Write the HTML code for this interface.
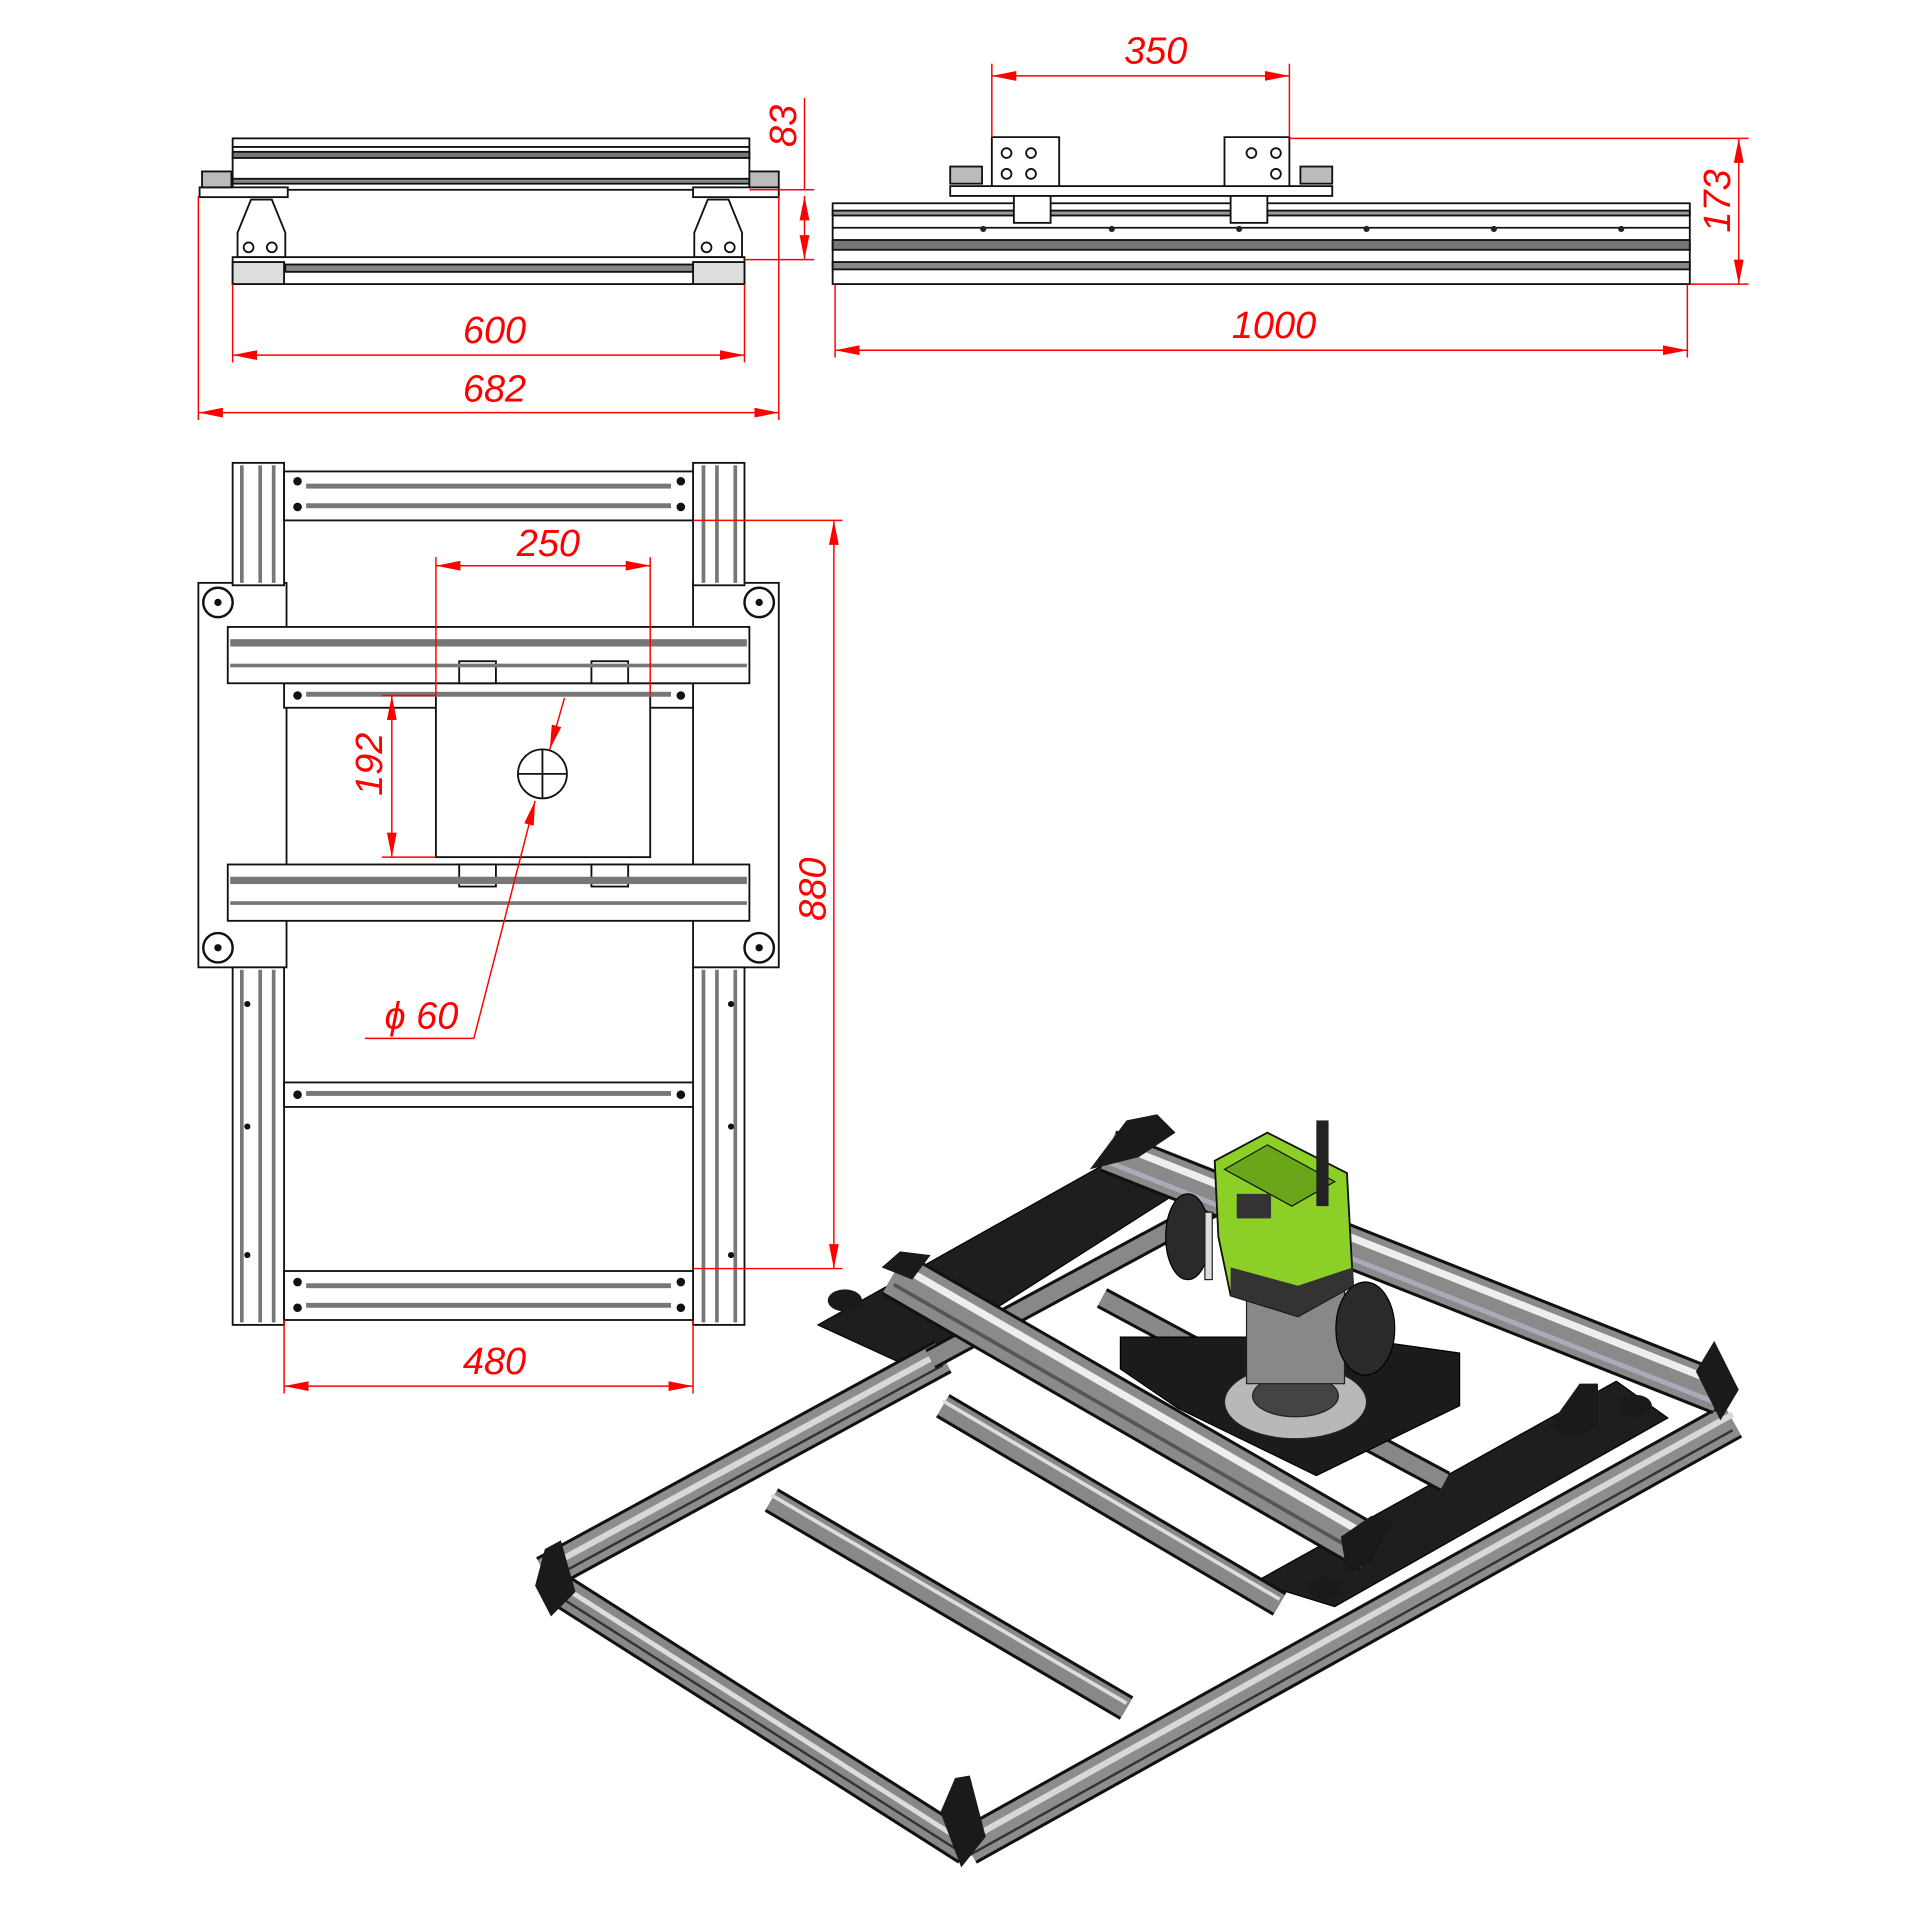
<!DOCTYPE html>
<html><head><meta charset="utf-8"><style>
html,body{margin:0;padding:0;background:#fff;}
svg{display:block;}
text{font-family:"Liberation Sans",sans-serif;font-style:italic;fill:#f00;font-size:31px;}
</style></head><body>
<svg width="1920" height="1920" viewBox="0 0 1568 1568" xmlns="http://www.w3.org/2000/svg">
<defs>
<marker id="a" viewBox="0 0 20 8" refX="20" refY="4" markerWidth="20" markerHeight="8" markerUnits="userSpaceOnUse" orient="auto-start-reverse"><path d="M0,0 L20,4 L0,8 z" fill="#f00"/></marker>
</defs>

<!-- ========== TOP LEFT VIEW ========== -->
<g stroke="#111" stroke-width="1.5" fill="#fff">
<rect x="190" y="113" width="422" height="42"/>
<line x1="190" y1="120" x2="612" y2="120"/>
<rect x="190" y="124" width="422" height="5" fill="#777"/>
<rect x="190" y="146" width="422" height="4" fill="#888"/>
<rect x="163" y="153" width="72" height="8"/>
<rect x="566" y="153" width="70" height="8"/>
<rect x="165" y="140" width="24" height="13" fill="#bbb"/>
<rect x="612" y="140" width="24" height="13" fill="#bbb"/>
<path d="M194,210 L194,190 L205,163 L222,163 L233,190 L233,210 z"/>
<path d="M567,210 L567,190 L578,163 L595,163 L606,190 L606,210 z"/>
<circle cx="203" cy="202" r="4"/><circle cx="222" cy="202" r="4"/>
<circle cx="577" cy="202" r="4"/><circle cx="596" cy="202" r="4"/>
<rect x="190" y="210" width="418" height="22"/>
<rect x="233" y="216" width="333" height="6" fill="#888"/>
<rect x="190" y="214" width="42" height="18" fill="#ddd"/>
<rect x="566" y="214" width="42" height="18" fill="#ddd"/>
</g>
<g stroke="#f00" stroke-width="1.2" fill="none">
<line x1="162" y1="160" x2="162" y2="343"/>
<line x1="636" y1="160" x2="636" y2="343"/>
<line x1="190" y1="232" x2="190" y2="296"/>
<line x1="608" y1="232" x2="608" y2="296"/>
<line x1="190" y1="290" x2="608" y2="290" marker-start="url(#a)" marker-end="url(#a)"/>
<line x1="162" y1="337" x2="636" y2="337" marker-start="url(#a)" marker-end="url(#a)"/>
<line x1="612" y1="155" x2="665" y2="155"/>
<line x1="608" y1="212" x2="665" y2="212"/>
<line x1="657" y1="80" x2="657" y2="155"/>
<line x1="657" y1="160" x2="657" y2="212" marker-start="url(#a)" marker-end="url(#a)"/>
</g>
<text x="378" y="280">600</text>
<text x="378" y="328">682</text>
<text transform="translate(650,120) rotate(-90)">83</text>

<!-- ========== TOP RIGHT VIEW ========== -->
<g stroke="#111" stroke-width="1.5" fill="#fff">
<rect x="680" y="166" width="700" height="66"/>
<rect x="680" y="172" width="700" height="4" fill="#999"/>
<rect x="680" y="196" width="700" height="8" fill="#777"/>
<rect x="680" y="214" width="700" height="6" fill="#888"/>
<line x1="680" y1="186" x2="1380" y2="186"/>
<rect x="776" y="152" width="312" height="8"/>
<rect x="828" y="160" width="30" height="22"/>
<rect x="1005" y="160" width="30" height="22"/>
<path d="M810,152 L810,112 L865,112 L865,152 z"/>
<path d="M1000,152 L1000,112 L1053,112 L1053,152 z"/>
<circle cx="822" cy="125" r="4"/><circle cx="822" cy="142" r="4"/><circle cx="842" cy="125" r="4"/><circle cx="842" cy="142" r="4"/>
<circle cx="1022" cy="125" r="4"/><circle cx="1042" cy="125" r="4"/><circle cx="1042" cy="142" r="4"/>
<rect x="776" y="136" width="26" height="14" fill="#bbb"/>
<rect x="1062" y="136" width="26" height="14" fill="#bbb"/>
</g>
<g fill="#222"><circle cx="803" cy="187" r="2.5"/><circle cx="908" cy="187" r="2.5"/><circle cx="1012" cy="187" r="2.5"/><circle cx="1116" cy="187" r="2.5"/><circle cx="1220" cy="187" r="2.5"/><circle cx="1324" cy="187" r="2.5"/></g>
<g stroke="#f00" stroke-width="1.2" fill="none">
<line x1="810" y1="52" x2="810" y2="112"/>
<line x1="1053" y1="52" x2="1053" y2="112"/>
<line x1="810" y1="62" x2="1053" y2="62" marker-start="url(#a)" marker-end="url(#a)"/>
<line x1="682" y1="232" x2="682" y2="292"/>
<line x1="1378" y1="232" x2="1378" y2="292"/>
<line x1="682" y1="286" x2="1378" y2="286" marker-start="url(#a)" marker-end="url(#a)"/>
<line x1="1053" y1="113" x2="1428" y2="113"/>
<line x1="1380" y1="232" x2="1428" y2="232"/>
<line x1="1420" y1="113" x2="1420" y2="232" marker-start="url(#a)" marker-end="url(#a)"/>
</g>
<text x="918" y="52">350</text>
<text x="1006" y="276">1000</text>
<text transform="translate(1413,190) rotate(-90)">173</text>

<!-- ========== PLAN VIEW ========== -->
<g stroke="#111" stroke-width="1.5" fill="#fff">
<rect x="162" y="476" width="72" height="314"/>
<rect x="566" y="476" width="70" height="314"/>
<rect x="190" y="378" width="42" height="100"/>
<rect x="190" y="790" width="42" height="292"/>
<rect x="566" y="378" width="42" height="100"/>
<rect x="566" y="790" width="42" height="292"/>
<rect x="232" y="385" width="334" height="40"/>
<rect x="232" y="558" width="334" height="20"/>
<rect x="232" y="884" width="334" height="20"/>
<rect x="232" y="1038" width="334" height="40"/>
<rect x="186" y="512" width="426" height="46"/>
<rect x="186" y="706" width="426" height="46"/>
<rect x="356" y="568" width="175" height="132"/>
<rect x="375" y="540" width="30" height="18"/><rect x="483" y="540" width="30" height="18"/>
<rect x="375" y="706" width="30" height="18"/><rect x="483" y="706" width="30" height="18"/>
<circle cx="443" cy="632" r="20"/>
<line x1="423" y1="632" x2="463" y2="632"/><line x1="443" y1="612" x2="443" y2="652"/>
</g>
<g fill="#777">
<rect x="196" y="380" width="3" height="96"/><rect x="211" y="380" width="3" height="96"/><rect x="222" y="380" width="3" height="96"/>
<rect x="196" y="792" width="3" height="288"/><rect x="211" y="792" width="3" height="288"/><rect x="222" y="792" width="3" height="288"/>
<rect x="573" y="380" width="3" height="96"/><rect x="584" y="380" width="3" height="96"/><rect x="599" y="380" width="3" height="96"/>
<rect x="573" y="792" width="3" height="288"/><rect x="584" y="792" width="3" height="288"/><rect x="599" y="792" width="3" height="288"/>
<rect x="250" y="395" width="298" height="4"/><rect x="250" y="411" width="298" height="4"/>
<rect x="250" y="1048" width="298" height="4"/><rect x="250" y="1064" width="298" height="4"/>
<rect x="250" y="565" width="298" height="4"/><rect x="250" y="891" width="298" height="4"/>
<rect x="188" y="522" width="422" height="6"/><rect x="188" y="542" width="422" height="3"/>
<rect x="188" y="716" width="422" height="6"/><rect x="188" y="736" width="422" height="3"/>
</g>
<g fill="#111">
<circle cx="243" cy="393" r="3.5"/><circle cx="243" cy="414" r="3.5"/><circle cx="556" cy="393" r="3.5"/><circle cx="556" cy="414" r="3.5"/>
<circle cx="243" cy="1047" r="3.5"/><circle cx="243" cy="1068" r="3.5"/><circle cx="556" cy="1047" r="3.5"/><circle cx="556" cy="1068" r="3.5"/>
<circle cx="243" cy="568" r="3.5"/><circle cx="556" cy="568" r="3.5"/><circle cx="243" cy="894" r="3.5"/><circle cx="556" cy="894" r="3.5"/>
<circle cx="202" cy="820" r="2.5"/><circle cx="202" cy="920" r="2.5"/><circle cx="202" cy="1025" r="2.5"/>
<circle cx="597" cy="820" r="2.5"/><circle cx="597" cy="920" r="2.5"/><circle cx="597" cy="1025" r="2.5"/>
</g>
<g stroke="#111" stroke-width="2" fill="#fff">
<circle cx="178" cy="492" r="12"/><circle cx="620" cy="492" r="12"/>
<circle cx="178" cy="774" r="12"/><circle cx="620" cy="774" r="12"/>
</g>
<g fill="#111"><circle cx="178" cy="492" r="3"/><circle cx="620" cy="492" r="3"/><circle cx="178" cy="774" r="3"/><circle cx="620" cy="774" r="3"/></g>
<g stroke="#f00" stroke-width="1.2" fill="none">
<line x1="356" y1="455" x2="356" y2="568"/>
<line x1="531" y1="455" x2="531" y2="568"/>
<line x1="356" y1="462" x2="531" y2="462" marker-start="url(#a)" marker-end="url(#a)"/>
<line x1="312" y1="568" x2="356" y2="568"/>
<line x1="312" y1="700" x2="356" y2="700"/>
<line x1="320" y1="568" x2="320" y2="700" marker-start="url(#a)" marker-end="url(#a)"/>
<line x1="566" y1="425" x2="688" y2="425"/>
<line x1="566" y1="1036" x2="688" y2="1036"/>
<line x1="681" y1="425" x2="681" y2="1036" marker-start="url(#a)" marker-end="url(#a)"/>
<line x1="232" y1="1078" x2="232" y2="1138"/>
<line x1="566" y1="1078" x2="566" y2="1138"/>
<line x1="232" y1="1132" x2="566" y2="1132" marker-start="url(#a)" marker-end="url(#a)"/>
<line x1="461" y1="570" x2="449" y2="612" marker-end="url(#a)"/>
<line x1="387" y1="848" x2="437" y2="654" marker-end="url(#a)"/>
<line x1="298" y1="848" x2="387" y2="848"/>
</g>
<text x="422" y="454">250</text>
<text transform="translate(312,650) rotate(-90)">192</text>
<text transform="translate(674,752) rotate(-90)">880</text>
<text x="378" y="1122">480</text>
<text x="314" y="840">ϕ 60</text>

<!-- ========== ISOMETRIC ========== -->
<polygon points="668,1082 900,952 960,975 740,1115" fill="#1e1e1e" stroke="#000"/>
<polygon points="1025,1292 1320,1128 1362,1158 1090,1312" fill="#1e1e1e" stroke="#000"/>
<g stroke-linecap="butt">
<g><line x1="445" y1="1285" x2="770" y2="1108" stroke="#111" stroke-width="30"/><line x1="445" y1="1285" x2="770" y2="1108" stroke="#8d8d8d" stroke-width="25"/><line x1="445" y1="1281" x2="770" y2="1104" stroke="#d8d8d8" stroke-width="5"/><line x1="445" y1="1292" x2="770" y2="1115" stroke="#333" stroke-width="2"/></g>
<g><line x1="790" y1="1508" x2="1415" y2="1160" stroke="#111" stroke-width="32"/><line x1="790" y1="1508" x2="1415" y2="1160" stroke="#8d8d8d" stroke-width="27"/><line x1="790" y1="1503" x2="1415" y2="1155" stroke="#d8d8d8" stroke-width="5"/><line x1="790" y1="1516" x2="1415" y2="1168" stroke="#333" stroke-width="2"/></g>
<g><line x1="460" y1="1300" x2="790" y2="1510" stroke="#111" stroke-width="28"/><line x1="460" y1="1300" x2="790" y2="1510" stroke="#888" stroke-width="23"/><line x1="460" y1="1296" x2="790" y2="1506" stroke="#ddd" stroke-width="4"/><line x1="460" y1="1306" x2="790" y2="1516" stroke="#333" stroke-width="2"/></g>
<g><line x1="630" y1="1225" x2="920" y2="1395" stroke="#111" stroke-width="22"/><line x1="630" y1="1225" x2="920" y2="1395" stroke="#888" stroke-width="17"/><line x1="630" y1="1221" x2="920" y2="1391" stroke="#ddd" stroke-width="3"/></g>
<g><line x1="770" y1="1148" x2="1045" y2="1310" stroke="#111" stroke-width="22"/><line x1="770" y1="1148" x2="1045" y2="1310" stroke="#888" stroke-width="17"/><line x1="770" y1="1144" x2="1045" y2="1306" stroke="#ddd" stroke-width="3"/></g>
<g><line x1="900" y1="1060" x2="1180" y2="1210" stroke="#111" stroke-width="18"/><line x1="900" y1="1060" x2="1180" y2="1210" stroke="#888" stroke-width="13"/></g>
<g><line x1="760" y1="1110" x2="1010" y2="975" stroke="#111" stroke-width="18"/><line x1="760" y1="1110" x2="1010" y2="975" stroke="#888" stroke-width="13"/></g>
<g><line x1="905" y1="940" x2="1405" y2="1138" stroke="#111" stroke-width="36"/><line x1="905" y1="940" x2="1405" y2="1138" stroke="#8a8a8a" stroke-width="31"/><line x1="905" y1="932" x2="1405" y2="1130" stroke="#eee" stroke-width="6"/><line x1="905" y1="949" x2="1405" y2="1147" stroke="#aab" stroke-width="4"/></g>
<g><line x1="730" y1="1040" x2="1120" y2="1265" stroke="#111" stroke-width="40"/><line x1="730" y1="1040" x2="1120" y2="1265" stroke="#8a8a8a" stroke-width="35"/><line x1="730" y1="1031" x2="1120" y2="1256" stroke="#eee" stroke-width="6"/><line x1="730" y1="1049" x2="1120" y2="1274" stroke="#555" stroke-width="3"/></g>
</g>
<g fill="#1a1a1a">
<path d="M437,1295 L445,1265 L458,1258 L470,1300 L450,1320 z"/>
<path d="M768,1480 L780,1452 L792,1450 L805,1500 L785,1525 z"/>
<path d="M1385,1120 L1400,1095 L1420,1135 L1405,1160 z"/>
<path d="M890,955 L920,915 L945,910 L960,925 L930,945 z"/>
<path d="M1265,1165 L1290,1130 L1305,1130 L1305,1165 L1285,1175 z"/>
<path d="M1095,1255 L1120,1238 L1138,1242 L1120,1275 L1100,1285 z"/>
<path d="M720,1035 L735,1022 L760,1025 L745,1045 z"/>
<ellipse cx="690" cy="1062" rx="14" ry="9"/>
<ellipse cx="1082" cy="1297" rx="14" ry="9"/>
<ellipse cx="1335" cy="1148" rx="14" ry="9"/>
</g>
<polygon points="915,1092 1100,1092 1192,1105 1192,1148 1075,1205 962,1150 915,1118" fill="#1b1b1b" stroke="#000"/>
<ellipse cx="1058" cy="1145" rx="58" ry="30" fill="#b8b8b8" stroke="#222"/>
<ellipse cx="1058" cy="1140" rx="35" ry="17" fill="#444" stroke="#222"/>
<rect x="1018" y="1050" width="80" height="80" fill="#888" stroke="#222"/>
<ellipse cx="970" cy="1010" rx="18" ry="35" fill="#2a2a2a" stroke="#000"/>
<ellipse cx="1115" cy="1085" rx="24" ry="38" fill="#2a2a2a" stroke="#000"/>
<polygon points="992,948 1035,925 1100,958 1105,1050 1060,1075 1005,1058 995,1010" fill="#8ccf27" stroke="#111" stroke-width="1.5"/>
<polygon points="1005,1035 1060,1050 1105,1035 1105,1050 1060,1075 1005,1058" fill="#333"/>
<polygon points="1000,955 1035,935 1090,965 1055,985" fill="#6aa61a" stroke="#111"/>
<rect x="1075" y="915" width="10" height="70" fill="#222"/>
<rect x="984" y="990" width="6" height="55" fill="#ddd" stroke="#222"/>
<rect x="1010" y="975" width="28" height="20" fill="#333"/>
</svg>
</body></html>
